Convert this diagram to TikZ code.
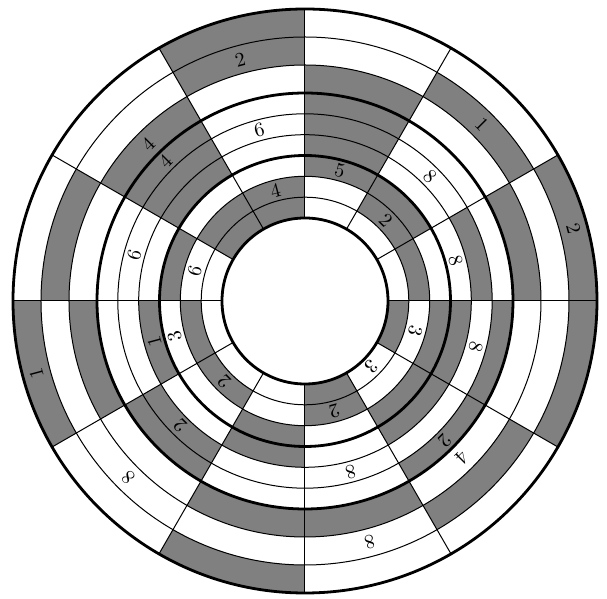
\documentclass[tikz,border=0pt]{standalone}
\newcommand\graycell[3]{\fill[cellfill] ({30*#3}:#2) arc[start angle={30*#3}, end angle={30*#3+30}, radius=#2] -- ({30*#3+30}:#1) arc[start angle={30*#3+30}, end angle={30*#3}, radius=#1] -- cycle;}
\begin{document}
\begin{tikzpicture}[x=0.5pt,y=0.5pt,
  thickring/.style={line width=1.4pt},
  thinring/.style={line width=0.5pt},
  cellfill/.style={fill=gray},
  lbl/.style={inner sep=0pt, font=\normalsize}]
\useasboundingbox (-305,-298) rectangle (302,301);
% shaded cells: band radii and sectors (sector k spans 30k..30k+30 degrees)
\foreach \k in {0,3,6,8,11} {\graycell{264}{292}{\k}}
\foreach \k in {1,3,5,10} {\graycell{236}{264}{\k}}
\foreach \k in {0,2,4,6,8,9} {\graycell{208}{236}{\k}}
\foreach \k in {2,4,7,10,11} {\graycell{187.2}{208}{\k}}
\foreach \k in {0,2,4,7} {\graycell{166.3}{187.2}{\k}}
\foreach \k in {2,4,6,8,10,11} {\graycell{145.5}{166.3}{\k}}
\foreach \k in {1,2,5,8,10,11} {\graycell{124.7}{145.5}{\k}}
\foreach \k in {0,1,3,4,6,7,9} {\graycell{103.8}{124.7}{\k}}
\foreach \k in {3,4,9,11} {\graycell{83}{103.8}{\k}}
% rings
\foreach \r in {103.8,124.7,166.3,187.2,236,264} {\draw[thinring] (0,0) circle[radius=\r];}
% radial lines
\foreach \a in {0,30,...,330} {\draw[thinring] (\a:83) -- (\a:292);}
\foreach \r in {83,145.5,208,292} {\draw[thickring] (0,0) circle[radius=\r];}
% labels
\foreach \r/\a/\t [count=\i] in {250/105/2, 250/45/1, 278/15/2, 222/135/4, 197.6/135/4,
  176.75/105/6, 114.25/105/4, 135.1/75/5, 176.75/45/8, 114.25/45/2, 155.9/15/8,
  176.75/165/6, 114.25/165/6, 278/195/1, 155.9/195/1, 135.1/195/3, 114.25/225/2,
  176.75/225/2, 250/225/8, 114.25/285/2, 176.75/285/8, 250/285/8, 93.4/315/3,
  197.6/315/2, 222/315/4, 114.25/345/3, 176.75/345/8}
  {\node[lbl, rotate=\a-90] (l\i) at (\a:\r) {\t};}
\end{tikzpicture}
\end{document}
